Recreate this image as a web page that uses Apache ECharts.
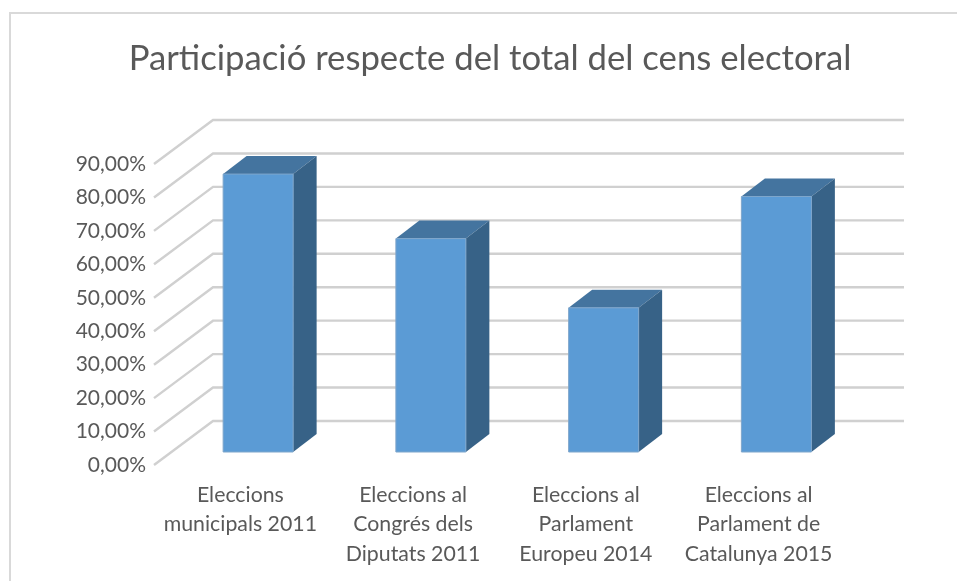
<!DOCTYPE html>
<html>
<head>
<meta charset="utf-8">
<style>
  html, body { margin: 0; padding: 0; background: #fff; }
  #chart { width: 957px; height: 581px; }
</style>
<script src="https://cdn.jsdelivr.net/npm/echarts@6/dist/echarts.min.js"></script>
</head>
<body>
<div id="chart"></div>
<script>
const categories = [
  'Eleccions\nmunicipals 2011',
  'Eleccions al\nCongrés dels\nDiputats 2011',
  'Eleccions al\nParlament\nEuropeu 2014',
  'Eleccions al\nParlament de\nCatalunya 2015'
]
const participation = [83.1, 63.8, 43.1, 76.4]
const gridValues = [0, 10, 20, 30, 40, 50, 60, 70, 80, 90]

// 3D look: how far the back wall sits from the front plane
const wallDx = 59
const wallDy = -44
const barDx = 23.5
const barDy = -18
const barWidth = 70

const chart = echarts.init(document.getElementById('chart'))

const fmtPct = v => v.toFixed(2).replace('.', ',') + '%'

chart.setOption({
  animation: false,
  backgroundColor: '#fff',
  textStyle: { fontFamily: 'Lato' },
  title: {
    text: 'Participació respecte del total del cens electoral',
    left: 485,
    top: 36,
    textAlign: 'center',
    textStyle: { color: '#595959', fontSize: 34.7, fontWeight: 'normal', fontFamily: 'Lato' }
  },
  grid: { left: 154, top: 164, width: 691, height: 301 },
  xAxis: {
    type: 'category',
    data: categories,
    axisLine: { show: false },
    axisTick: { show: false },
    axisLabel: { color: '#595959', fontSize: 21.3, lineHeight: 29.5, margin: 15, interval: 0, hideOverlap: false }
  },
  yAxis: {
    type: 'value',
    min: 0,
    max: 90,
    interval: 10,
    axisLine: { show: false },
    axisTick: { show: false },
    splitLine: { show: false },
    axisLabel: { color: '#595959', fontSize: 21, margin: 8, formatter: fmtPct }
  },
  series: [
    {
      type: 'custom',
      silent: true,
      z: 1,
      data: gridValues.map(v => [0, v]),
      encode: { x: 0, y: 1 },
      clip: false,
      renderItem: (params, api) => {
        const p = api.coord([0, api.value(1)])
        const x0 = params.coordSys.x
        const x1 = x0 + params.coordSys.width
        return {
          type: 'polyline',
          shape: { points: [[x0, p[1]], [x0 + wallDx, p[1] + wallDy], [x1 + wallDx, p[1] + wallDy]] },
          style: { fill: null, stroke: '#d0d0d0', lineWidth: 2.4 }
        }
      }
    },
    {
      type: 'custom',
      silent: true,
      z: 2,
      data: participation.map((v, i) => [i, v]),
      encode: { x: 0, y: 1 },
      clip: false,
      renderItem: (params, api) => {
        const top = api.coord([api.value(0), api.value(1)])
        const base = api.coord([api.value(0), 0])
        // bars stand halfway into the floor
        const offX = (wallDx - barDx) / 2
        const offY = (wallDy - barDy) / 2
        const l = top[0] - barWidth / 2 + offX
        const r = l + barWidth
        const t = top[1] + offY
        const b = base[1] + offY
        return {
          type: 'group',
          children: [
            {
              type: 'polygon',
              shape: { points: [[l, t], [r, t], [r + barDx, t + barDy], [l + barDx, t + barDy]] },
              style: { fill: '#44749f' }
            },
            {
              type: 'polygon',
              shape: { points: [[r, t], [r + barDx, t + barDy], [r + barDx, b + barDy], [r, b]] },
              style: { fill: '#376287' }
            },
            {
              type: 'rect',
              shape: { x: l, y: t, width: barWidth, height: b - t },
              style: { fill: '#5b9bd5', stroke: '#7fa6cb', lineWidth: 1 }
            }
          ]
        }
      }
    }
  ],
  graphic: [
    {
      type: 'polyline',
      silent: true,
      shape: { points: [[10, 581], [10, 13], [957, 13]] },
      style: { fill: null, stroke: '#d9d9d9', lineWidth: 2 }
    }
  ]
})
</script>
</body>
</html>
